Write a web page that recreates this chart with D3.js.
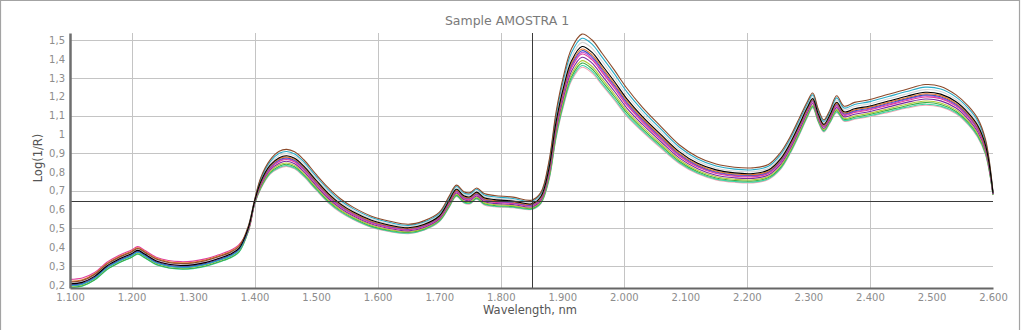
<!DOCTYPE html>
<html><head><meta charset="utf-8">
<script src="https://cdn.jsdelivr.net/npm/d3@7"></script>
<style>html,body{margin:0;padding:0;background:#fff;}svg{display:block;}</style>
</head><body>
<svg id="chart" width="1024" height="330"></svg>
<script>
// ---- data ----
const wavelengths = [1100,1120,1140,1160,1180,1200,1210,1222,1240,1260,1280,1300,1320,1340,1360,1375,
 1390,1400,1410,1425,1440,1452,1465,1480,1500,1520,1540,1560,1590,1620,1650,1675,1700,1716,1728,1740,1750,1761,1773,1790,
 1820,1850,1865,1878,1890,1902,1915,1932,1948,1965,1985,2005,2030,2060,2090,2120,2150,2180,2210,2235,
 2255,2270,2285,2298,2307,2316,2325,2335,2346,2358,2375,2400,2430,2460,2490,2515,2540,2560,2575,2588,2600];

const sBrown = [0.215,0.223,0.255,0.310,0.347,0.375,0.393,0.372,0.337,0.319,0.313,0.316,0.328,0.348,0.372,0.405,
 0.515,0.652,0.770,0.863,0.910,0.920,0.907,0.865,0.787,0.715,0.656,0.613,0.565,0.538,0.522,0.540,0.585,0.670,0.730,0.695,0.690,0.715,0.685,0.675,
 0.666,0.650,0.690,0.850,1.120,1.310,1.455,1.533,1.503,1.430,1.340,1.245,1.145,1.043,0.945,0.880,0.842,0.825,0.822,0.840,
 0.905,0.985,1.085,1.172,1.220,1.135,1.077,1.130,1.205,1.150,1.170,1.185,1.213,1.240,1.265,1.255,1.210,1.150,1.085,0.970,0.693];
const sTeal = [0.195,0.203,0.235,0.290,0.327,0.355,0.373,0.352,0.317,0.299,0.293,0.296,0.308,0.328,0.352,0.385,
 0.511,0.649,0.763,0.854,0.899,0.909,0.896,0.854,0.777,0.705,0.647,0.605,0.558,0.531,0.516,0.534,0.579,0.663,0.723,0.688,0.683,0.708,0.678,0.668,
 0.659,0.644,0.683,0.838,1.103,1.290,1.434,1.511,1.481,1.409,1.320,1.226,1.129,1.029,0.933,0.869,0.832,0.815,0.812,0.830,
 0.894,0.974,1.074,1.162,1.210,1.126,1.069,1.121,1.194,1.140,1.159,1.174,1.201,1.228,1.251,1.241,1.198,1.138,1.073,0.960,0.691];
const sLightGray = [0.211,0.219,0.251,0.306,0.343,0.371,0.389,0.368,0.333,0.315,0.309,0.312,0.324,0.344,0.368,0.401,
 0.508,0.646,0.755,0.844,0.888,0.898,0.885,0.843,0.766,0.695,0.638,0.597,0.550,0.524,0.510,0.528,0.573,0.655,0.715,0.680,0.675,0.700,0.670,0.660,
 0.652,0.638,0.675,0.825,1.085,1.270,1.413,1.489,1.459,1.388,1.300,1.208,1.113,1.014,0.920,0.858,0.821,0.805,0.802,0.820,
 0.883,0.963,1.063,1.151,1.200,1.118,1.061,1.113,1.183,1.130,1.148,1.163,1.189,1.215,1.238,1.228,1.185,1.125,1.060,0.950,0.689];
const sBlack = [0.205,0.213,0.245,0.300,0.337,0.365,0.383,0.362,0.327,0.309,0.303,0.306,0.318,0.338,0.362,0.395,
 0.504,0.643,0.748,0.835,0.876,0.886,0.873,0.831,0.756,0.685,0.629,0.588,0.543,0.517,0.503,0.521,0.566,0.648,0.708,0.673,0.668,0.693,0.663,0.653,
 0.645,0.631,0.668,0.813,1.068,1.250,1.391,1.467,1.437,1.366,1.280,1.189,1.096,1.000,0.908,0.846,0.811,0.795,0.792,0.810,
 0.871,0.951,1.051,1.141,1.190,1.109,1.053,1.104,1.171,1.120,1.136,1.151,1.177,1.203,1.224,1.214,1.173,1.113,1.048,0.940,0.687];
const sBlue = [0.197,0.205,0.237,0.292,0.329,0.357,0.375,0.354,0.319,0.301,0.295,0.298,0.310,0.330,0.354,0.387,
 0.500,0.640,0.740,0.825,0.865,0.875,0.862,0.820,0.745,0.675,0.620,0.580,0.535,0.510,0.497,0.515,0.560,0.640,0.700,0.665,0.660,0.685,0.655,0.645,
 0.638,0.625,0.660,0.800,1.050,1.230,1.370,1.445,1.415,1.345,1.260,1.170,1.080,0.985,0.895,0.835,0.800,0.785,0.782,0.800,
 0.860,0.940,1.040,1.130,1.180,1.100,1.045,1.095,1.160,1.110,1.125,1.140,1.165,1.190,1.210,1.200,1.160,1.100,1.035,0.930,0.685];
const sOrange = [0.219,0.227,0.259,0.314,0.351,0.379,0.397,0.376,0.341,0.323,0.317,0.320,0.332,0.352,0.376,0.409,
 0.502,0.641,0.743,0.829,0.870,0.880,0.867,0.825,0.749,0.679,0.624,0.583,0.538,0.513,0.500,0.518,0.563,0.643,0.703,0.668,0.663,0.688,0.658,0.648,
 0.641,0.628,0.663,0.805,1.057,1.238,1.379,1.454,1.424,1.354,1.268,1.178,1.087,0.991,0.900,0.840,0.804,0.789,0.786,0.804,
 0.865,0.945,1.045,1.134,1.184,1.104,1.048,1.099,1.165,1.114,1.130,1.145,1.170,1.195,1.216,1.206,1.165,1.105,1.040,0.934,0.686];
const sMagenta = [0.229,0.236,0.265,0.320,0.357,0.385,0.403,0.382,0.347,0.329,0.323,0.326,0.338,0.358,0.382,0.415,
 0.497,0.638,0.734,0.817,0.856,0.866,0.853,0.811,0.737,0.667,0.613,0.573,0.529,0.504,0.492,0.510,0.555,0.634,0.694,0.659,0.654,0.679,0.649,0.639,
 0.632,0.620,0.654,0.790,1.036,1.214,1.353,1.427,1.397,1.328,1.244,1.155,1.067,0.973,0.885,0.826,0.792,0.777,0.774,0.792,
 0.851,0.931,1.031,1.122,1.172,1.093,1.039,1.088,1.151,1.102,1.116,1.131,1.155,1.180,1.199,1.189,1.150,1.090,1.025,0.922,0.683];
const sPurple = [0.199,0.207,0.239,0.294,0.331,0.359,0.377,0.356,0.321,0.303,0.297,0.300,0.312,0.332,0.356,0.389,
 0.494,0.635,0.728,0.810,0.847,0.857,0.844,0.802,0.728,0.659,0.606,0.567,0.523,0.499,0.487,0.505,0.550,0.628,0.688,0.653,0.648,0.673,0.643,0.633,
 0.627,0.615,0.648,0.780,1.022,1.198,1.336,1.410,1.380,1.311,1.228,1.140,1.054,0.962,0.875,0.817,0.783,0.769,0.766,0.784,
 0.842,0.922,1.022,1.113,1.164,1.086,1.032,1.081,1.142,1.094,1.107,1.122,1.146,1.170,1.188,1.178,1.140,1.080,1.015,0.914,0.682];
const sYellowGreen = [0.193,0.201,0.233,0.288,0.325,0.353,0.371,0.350,0.315,0.297,0.291,0.294,0.306,0.326,0.350,0.383,
 0.491,0.633,0.722,0.802,0.838,0.848,0.835,0.793,0.720,0.651,0.598,0.560,0.517,0.493,0.482,0.500,0.545,0.622,0.682,0.647,0.642,0.667,0.637,0.627,
 0.621,0.610,0.642,0.770,1.008,1.182,1.319,1.392,1.362,1.294,1.212,1.125,1.041,0.950,0.865,0.808,0.775,0.761,0.758,0.776,
 0.833,0.913,1.013,1.105,1.156,1.079,1.026,1.074,1.133,1.086,1.098,1.113,1.136,1.160,1.177,1.167,1.130,1.070,1.005,0.906,0.680];
const sGreen = [0.187,0.195,0.227,0.282,0.319,0.347,0.365,0.344,0.309,0.291,0.285,0.288,0.300,0.320,0.344,0.377,
 0.489,0.631,0.717,0.796,0.831,0.841,0.828,0.786,0.713,0.645,0.593,0.555,0.512,0.489,0.478,0.496,0.541,0.617,0.677,0.642,0.637,0.662,0.632,0.622,
 0.617,0.606,0.637,0.762,0.997,1.170,1.306,1.379,1.349,1.281,1.200,1.114,1.031,0.941,0.857,0.801,0.768,0.755,0.752,0.770,
 0.826,0.906,1.006,1.098,1.150,1.074,1.021,1.069,1.126,1.080,1.091,1.106,1.129,1.152,1.169,1.159,1.122,1.062,0.997,0.900,0.679];
const sMint = [0.185,0.193,0.225,0.280,0.317,0.345,0.363,0.342,0.307,0.289,0.283,0.286,0.298,0.318,0.342,0.375,
 0.486,0.629,0.713,0.791,0.824,0.834,0.821,0.779,0.707,0.639,0.588,0.550,0.508,0.485,0.474,0.492,0.537,0.613,0.673,0.638,0.633,0.658,0.628,0.618,
 0.613,0.602,0.633,0.755,0.987,1.158,1.293,1.366,1.336,1.268,1.188,1.102,1.021,0.933,0.850,0.794,0.762,0.749,0.746,0.764,
 0.819,0.899,0.999,1.092,1.144,1.068,1.016,1.063,1.119,1.074,1.084,1.099,1.122,1.145,1.160,1.150,1.115,1.055,0.990,0.894,0.678];
const sLightPink = [0.213,0.221,0.253,0.308,0.345,0.373,0.391,0.370,0.335,0.317,0.311,0.314,0.326,0.346,0.370,0.403,
 0.485,0.628,0.710,0.787,0.820,0.830,0.817,0.775,0.703,0.635,0.584,0.547,0.505,0.482,0.472,0.490,0.535,0.610,0.670,0.635,0.630,0.655,0.625,0.615,
 0.610,0.600,0.630,0.750,0.980,1.150,1.285,1.357,1.327,1.260,1.180,1.095,1.015,0.927,0.845,0.790,0.758,0.745,0.742,0.760,
 0.815,0.895,0.995,1.088,1.140,1.065,1.013,1.060,1.115,1.070,1.080,1.095,1.117,1.140,1.155,1.145,1.110,1.050,0.985,0.890,0.677];
const sViolet = [0.207,0.215,0.247,0.302,0.339,0.367,0.385,0.364,0.329,0.311,0.305,0.308,0.320,0.340,0.364,0.397,
 0.498,0.639,0.737,0.821,0.860,0.870,0.857,0.815,0.741,0.671,0.616,0.577,0.532,0.507,0.494,0.512,0.557,0.637,0.697,0.662,0.657,0.682,0.652,0.642,
 0.635,0.622,0.657,0.795,1.043,1.222,1.361,1.436,1.406,1.336,1.252,1.162,1.073,0.979,0.890,0.830,0.796,0.781,0.778,0.796,
 0.855,0.935,1.035,1.126,1.176,1.096,1.042,1.091,1.155,1.106,1.120,1.135,1.160,1.185,1.205,1.194,1.155,1.095,1.030,0.926,0.684];

const seriesValues = [sLightPink, sMint, sGreen, sYellowGreen, sPurple, sViolet, sMagenta, sBlue, sOrange, sLightGray, sTeal, sBrown, sBlack];
const seriesColors = ["#f4a9b8", "#3fd4a6", "#3cae46", "#b4c83a", "#7a2aa0", "#c04ed6", "#e03c9c", "#3a56c8", "#e8762e", "#d6d6d6", "#28aac6", "#8c4a2a", "#000000"];

const xTicks = [1100,1200,1300,1400,1500,1600,1700,1800,1900,2000,2100,2200,2300,2400,2500,2600];
const xTickLabels = ["1.100","1.200","1.300","1.400","1.500","1.600","1.700","1.800","1.900","2.000","2.100","2.200","2.300","2.400","2.500","2.600"];
const xGrid = [1200,1400,1600,1800,2000,2200,2400];
const yTicks = [0.2,0.3,0.4,0.5,0.6,0.7,0.8,0.9,1.0,1.1,1.2,1.3,1.4,1.5];
const yTickLabels = ["0,2","0,3","0,4","0,5","0,6","0,7","0,8","0,9","1","1,1","1,2","1,3","1,4","1,5"];
const yGrid = [0.3,0.5,0.7,0.9,1.1,1.3,1.5];
const crossWavelength = 1850;
const crossValue = 0.6455;
const titleText = "Sample AMOSTRA 1";
const xAxisTitle = "Wavelength, nm";
const yAxisTitle = "Log(1/R)";

// ---- drawing ----
const FONT = "'DejaVu Sans', Verdana, sans-serif";
const svg = d3.select("#chart");
const L = 70, R = 993, T = 33, B = 288;
const x = d3.scaleLinear().domain([1100, 2600]).range([L, R]);
const y = d3.scaleLinear().domain([0.183, 1.539]).range([B, T]);

svg.append("rect").attr("x",0).attr("y",0).attr("width",1024).attr("height",330).attr("fill","#fff");
// outer frame
svg.append("path").attr("d","M0.5,331 V0.5 H1019.5 V331").attr("fill","none").attr("stroke","#a3a3a3").attr("stroke-width",1.2);

// grid
const g = svg.append("g");
g.selectAll(".hg").data(yGrid).join("line")
  .attr("x1",L).attr("x2",R).attr("y1",d=>Math.round(y(d))+0.5).attr("y2",d=>Math.round(y(d))+0.5)
  .attr("stroke","#c4c4c4").attr("stroke-width",1);
g.selectAll(".vg").data(xGrid).join("line")
  .attr("y1",T).attr("y2",B).attr("x1",d=>Math.round(x(d))+0.5).attr("x2",d=>Math.round(x(d))+0.5)
  .attr("stroke","#c4c4c4").attr("stroke-width",1);

// clip
svg.append("clipPath").attr("id","clip").append("rect").attr("x",L).attr("y",T-2).attr("width",R-L+2).attr("height",B-T+2);

const line = d3.line().x(d=>x(d[0])).y(d=>y(d[1])).curve(d3.curveCatmullRom.alpha(0.5));
const lines = svg.append("g").attr("clip-path","url(#clip)");
seriesValues.forEach((vals,i)=>{
  lines.append("path").datum(wavelengths.map((w,j)=>[w, vals[j]]))
    .attr("d", line).attr("fill","none").attr("stroke", seriesColors[i]).attr("stroke-width",1.1);
});

// crosshair
svg.append("line").attr("x1",Math.round(x(crossWavelength))+0.5).attr("x2",Math.round(x(crossWavelength))+0.5)
  .attr("y1",T).attr("y2",B).attr("stroke","#3a3a3a").attr("stroke-width",1);
svg.append("line").attr("x1",L).attr("x2",R).attr("y1",Math.round(y(crossValue))+0.5).attr("y2",Math.round(y(crossValue))+0.5)
  .attr("stroke","#3a3a3a").attr("stroke-width",1);

// axes
const xAxis = d3.axisBottom(x).tickValues(xTicks).tickSize(0).tickPadding(6).tickFormat((d,i)=>xTickLabels[i]);
const gx = svg.append("g").attr("transform",`translate(0,${B})`).call(xAxis);
gx.select(".domain").attr("stroke","#666").attr("stroke-width",2);
gx.selectAll("text").attr("fill","#8c8c8c").style("font-family",FONT).style("font-size","10px");

const yAxis = d3.axisLeft(y).tickValues(yTicks).tickSize(0).tickPadding(5).tickFormat((d,i)=>yTickLabels[i]);
const gy = svg.append("g").attr("transform",`translate(${L},0)`).call(yAxis);
gy.select(".domain").attr("stroke","#6e6e6e").attr("stroke-width",2.5);
gy.selectAll("text").attr("fill","#8c8c8c").style("font-family",FONT).style("font-size","10px");

// titles
svg.append("text").attr("x",507).attr("y",25).attr("text-anchor","middle")
  .style("font-family",FONT).style("font-size","12.5px").attr("fill","#7a7a7a").text(titleText);
svg.append("text").attr("x",530).attr("y",314).attr("text-anchor","middle")
  .style("font-family",FONT).style("font-size","11.5px").attr("fill","#555").text(xAxisTitle);
svg.append("text").attr("transform","translate(42,158) rotate(-90)").attr("text-anchor","middle")
  .style("font-family",FONT).style("font-size","11.5px").attr("fill","#555").text(yAxisTitle);
</script>
</body></html>
